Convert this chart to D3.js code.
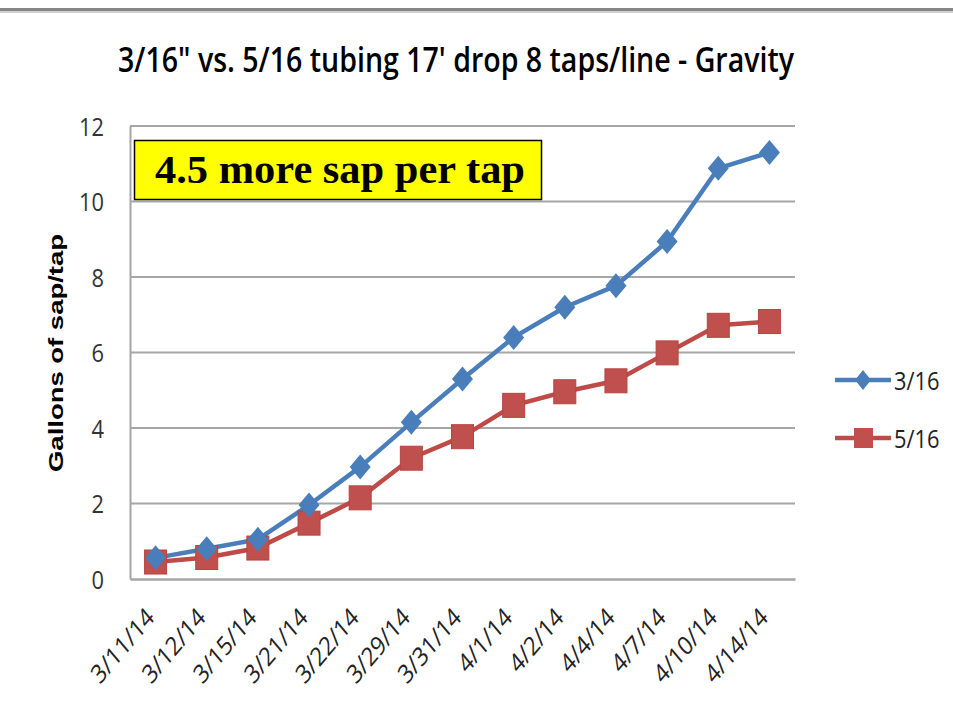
<!DOCTYPE html>
<html><head><meta charset="utf-8">
<script src="https://cdn.jsdelivr.net/npm/d3@7"></script>
<style>body{margin:0;background:#fff}svg{display:block}</style>
</head><body>
<svg id="c" width="953" height="723"></svg>
<script>
const categories = ["3/11/14","3/12/14","3/15/14","3/21/14","3/22/14","3/29/14","3/31/14","4/1/14","4/2/14","4/4/14","4/7/14","4/10/14","4/14/14"];
const series316 = [0.56,0.8,1.05,1.96,2.97,4.15,5.3,6.4,7.2,7.77,8.94,10.88,11.3];
const series516 = [0.45,0.57,0.82,1.48,2.15,3.2,3.77,4.6,4.96,5.25,5.99,6.72,6.82];
const yTicks = [0,2,4,6,8,10,12];
const seriesNames = ["3/16","5/16"];
const titleText = "3/16\" vs. 5/16 tubing 17' drop 8 taps/line - Gravity";
const noteText = "4.5 more sap per tap";

const SX = 0.84; // horizontal squeeze of text, as in the reference picture
const FONT = "'Open Sans', 'Noto Sans', sans-serif";
const svg = d3.select("#c");
const L=130,R=795,T=126,B=579;
const x = d3.scaleBand().domain(categories).range([L,R]);
const y = d3.scaleLinear().domain([0,12]).range([B,T]);
const cx = d => x(d)+x.bandwidth()/2;

// top bar
svg.append("rect").attr("x",0).attr("y",8).attr("width",953).attr("height",3).attr("fill","#858585");
svg.append("rect").attr("x",0).attr("y",11).attr("width",953).attr("height",2).attr("fill","#d0d0d0");

// title
svg.append("text").attr("x",456).attr("y",72).attr("text-anchor","middle")
  .attr("font-family",FONT).attr("font-weight",600).attr("font-size",35)
  .attr("textLength",676).attr("lengthAdjust","spacingAndGlyphs").attr("fill","#000").text(titleText);

// gridlines
svg.append("g").selectAll("line").data(yTicks.filter(d=>d>0)).join("line")
  .attr("x1",L).attr("x2",R).attr("y1",d=>y(d)).attr("y2",d=>y(d))
  .attr("stroke","#a6a6a6").attr("stroke-width",2);

// axes
const ya = svg.append("g").attr("transform",`translate(${L},0)`)
  .call(d3.axisLeft(y).tickValues(yTicks).tickSize(0));
ya.select(".domain").attr("stroke","#a6a6a6").attr("stroke-width",2);
ya.selectAll(".tick text").attr("font-family",FONT).attr("font-size",26).attr("fill","#333")
  .attr("x",0).attr("dy","0.35em").attr("text-anchor","end")
  .attr("transform",`translate(-26,0) scale(${SX},1)`);

const xa = svg.append("g").attr("transform",`translate(0,${B})`)
  .call(d3.axisBottom(x).tickSize(0));
xa.select(".domain").attr("stroke","#a6a6a6").attr("stroke-width",2.5);
xa.selectAll(".tick text").attr("font-family",FONT).attr("font-size",26).attr("fill","#222")
  .attr("text-anchor","end").attr("y",0).attr("dy",0)
  .attr("transform",`translate(0,40) scale(${SX},1) rotate(-45)`);

// y axis title
svg.append("text").attr("transform",`translate(63,353) scale(${SX},1) rotate(-90)`).attr("text-anchor","middle")
  .attr("font-family","'Liberation Sans', Arial, sans-serif").attr("font-weight","bold").attr("font-size",25)
  .attr("textLength",238).attr("lengthAdjust","spacingAndGlyphs")
  .text("Gallons of sap/tap");

// lines
const colors = ["#4a7ebb","#be4b48"];
const data = [series316, series516];
const line = d3.line().x((d,i)=>cx(categories[i])).y(d=>y(d));
data.forEach((s,k)=>{
  svg.append("path").datum(s).attr("d",line).attr("fill","none")
    .attr("stroke",colors[k]).attr("stroke-width",4.5).attr("stroke-linejoin","round");
});
// markers
svg.append("g").selectAll("rect").data(series516).join("rect")
  .attr("x",(d,i)=>cx(categories[i])-11).attr("y",d=>y(d)-12).attr("width",22).attr("height",24)
  .attr("fill","#c0504d").attr("stroke","#b8433f").attr("stroke-width",1);
svg.append("g").selectAll("path").data(series316).join("path")
  .attr("d","M0,-12.5L10.5,0L0,12.5L-10.5,0Z")
  .attr("transform",(d,i)=>`translate(${cx(categories[i])},${y(d)})`)
  .attr("fill","#4a7ebb");

// note box
svg.append("rect").attr("x",134.5).attr("y",140.5).attr("width",407).attr("height",59)
  .attr("fill","#ffff00").attr("stroke","#000").attr("stroke-width",1.5);
svg.append("text").attr("x",340).attr("y",183).attr("text-anchor","middle")
  .attr("font-family","'Liberation Serif', 'Times New Roman', serif").attr("font-weight","bold").attr("font-size",39)
  .attr("textLength",370).attr("lengthAdjust","spacingAndGlyphs")
  .text(noteText);

// legend
const lg = svg.append("g");
seriesNames.forEach((n,k)=>{
  const ly = 380 + k*58;
  lg.append("line").attr("x1",835).attr("x2",891).attr("y1",ly).attr("y2",ly).attr("stroke",colors[k]).attr("stroke-width",4.5);
  if(k===0) lg.append("path").attr("d","M0,-10L8,0L0,10L-8,0Z").attr("transform",`translate(863,${ly})`).attr("fill",colors[0]);
  else lg.append("rect").attr("x",854).attr("y",ly-10).attr("width",19).attr("height",20).attr("fill","#c0504d");
  lg.append("text").attr("transform",`translate(894,${ly+10}) scale(${SX},1)`)
    .attr("font-family",FONT).attr("font-size",26).attr("fill","#222").text(n);
});
</script>
</body></html>
